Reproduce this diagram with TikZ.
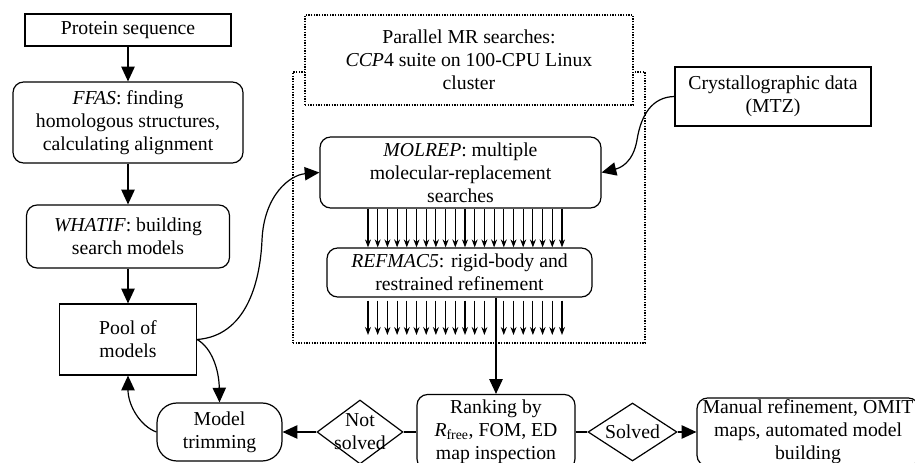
\documentclass[tikz,border=0pt]{standalone}
\usepackage{fontspec}
\setmainfont{Liberation Serif}
\usetikzlibrary{shapes.geometric,arrows.meta,calc}
\begin{document}
\begin{tikzpicture}[x=0.75pt,y=-0.75pt,
 every node/.style={font=\fontsize{14.8}{17.3}\selectfont, align=center, inner sep=0pt},
 bx/.style 2 args={draw, line width=0.9pt, minimum width=#1*0.75pt, minimum height=#2*0.75pt},
 rbx/.style={rounded corners=8pt},
 dia/.style 2 args={draw, diamond, line width=0.9pt, minimum width=#1*0.75pt, minimum height=#2*0.75pt},
 conn/.style={line width=0.9pt, -{Triangle[length=11pt,width=10pt]}},
 plainln/.style={line width=0.9pt},
 smallarr/.style={line width=0.8pt, -{Stealth[length=6pt,width=4.5pt]}},
 dots/.style={line width=1.6pt, dash pattern=on 1.1pt off 0.9pt},
]
\useasboundingbox (0,0) rectangle (915,463);
\clip (0,0) rectangle (915,463);

% cluster frame
\node[draw, dots, minimum width=352*0.75pt, minimum height=271*0.75pt] (cluster) at (469,207.5) {};
\node[draw, dots, fill=white, minimum width=328*0.75pt, minimum height=90*0.75pt] (par) at (469,60)
  {Parallel MR searches:\\\textit{CCP}4 suite on 100-CPU Linux\\cluster};

\node[bx={206}{32}] (prot) at (128,30) {Protein sequence};
\node[bx={230}{81},rbx] (ffas) at (128,122.5) {\textit{FFAS}: finding\\homologous structures,\\calculating alignment};
\node[bx={203}{63},rbx] (whatif) at (128,236.5) {\textit{WHATIF}: building\\search models};
\node[bx={137}{71}] (pool) at (128,339.5) {Pool of\\models};
\node[bx={125}{58},rounded corners=15pt] (trim) at (219.5,432) {Model\\trimming};
\node[dia={86}{64}, label={center:Not\\solved}] (ns) at (360,432) {};
\node[bx={158}{75},rbx] (rank) at (496,432) {Ranking by\\\textit{R}\textsubscript{free}, FOM, ED\\map inspection};
\node[dia={89}{58}, label={center:Solved}] (sv) at (632.5,432) {};
\node[bx={222}{68},rbx] (man) at (808,432) {Manual refinement, OMIT\\maps, automated model\\building};
\node[bx={196}{59}] (crys) at (773,96.5) {Crystallographic data\\(MTZ)};
\node[bx={281}{71},rbx] (molrep) at (460.5,172.5) {\textit{MOLREP}: multiple\\molecular-replacement\\searches};
\node[bx={265}{49},rbx] (refmac) at (459.5,272.5) {\textit{REFMAC5}: rigid-body and\\restrained refinement};

\coordinate (lowend) at (0,335);

% straight connectors
\draw[conn] (prot.south) -- (ffas.north);
\draw[conn] (ffas.south) -- (whatif.north);
\draw[conn] (whatif.south) -- (pool.north);
\draw[conn] (rank.north |- refmac.south) -- (rank.north);
\draw[plainln] (rank.west) -- (ns.east);
\draw[conn] (ns.west) -- (trim.east);
\draw[plainln] (rank.east) -- (sv.west);
\draw[conn] (sv.east) -- (man.west);

% curved connectors
\draw[conn] (pool.east) .. controls (245,336) and (260,285) .. (262,240) .. controls (264,195) and (290,175) .. (molrep.west);
\draw[conn] (crys.west) .. controls (652,97) and (641,115) .. (637,140) .. controls (633,163) and (620,168) .. (molrep.east);
\draw[conn] (pool.east) .. controls (212,348) and (219,370) .. (trim.north);
\draw[conn] (trim.west) .. controls (140,426) and (128,405) .. (pool.south);

% parallel arrows
\foreach \k in {0,...,20} {
  \pgfmathsetmacro\xx{368+\k*9.7}
  \draw[smallarr] (\xx,0 |- molrep.south) -- (\xx,0 |- refmac.north);
  \ifnum\k=13\else
    \draw[smallarr] ($(\xx,0 |- refmac.south)+(0,3)$) -- (\xx,0 |- lowend);
  \fi
}
\end{tikzpicture}
\end{document}
